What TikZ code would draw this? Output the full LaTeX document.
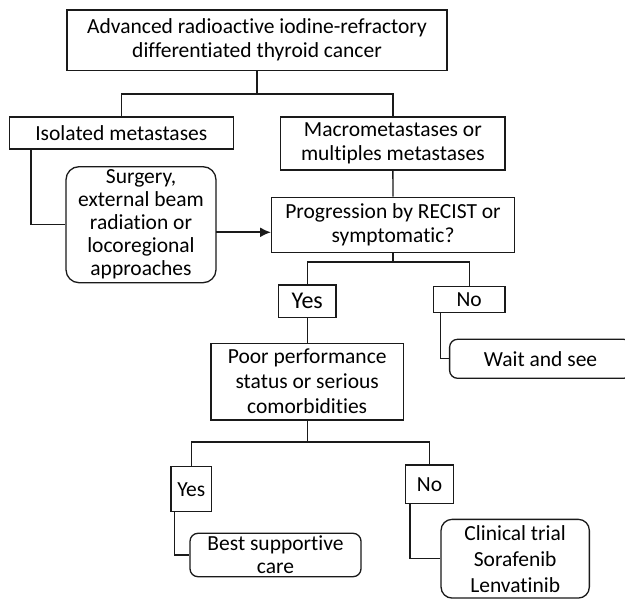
\documentclass[tikz,border=0pt]{standalone}
\usepackage{fontspec}
\setmainfont{Carlito}[Ligatures={NoCommon,NoRequired,NoContextual,NoDiscretionary}]
\usetikzlibrary{arrows.meta}
\definecolor{ink}{HTML}{1A1A1A}
\begin{document}
\begin{tikzpicture}[x=1pt,y=-1pt,
  every node/.style={font=\fontsize{21.5}{24}\selectfont, text=black},
  box/.style={draw=ink, line width=1.3pt, rectangle, inner sep=0pt, align=center},
  rbox/.style={box, rounded corners=#1},
  link/.style={draw=ink, line width=1.3pt},
  arr/.style={draw=ink, line width=2pt, -{Latex[length=11pt,width=10pt]}}]
\useasboundingbox (0,0) rectangle (625,600);
\fill[white] (0,0) rectangle (625,600);

\node[box, minimum width=380pt, minimum height=60.5pt] (top) at (257,40.25)
  {Advanced radioactive iodine-refractory\\differentiated thyroid cancer};
\node[box, minimum width=224pt, minimum height=32pt] (iso) at (121.3,133)
  {Isolated metastases};
\node[box, minimum width=224.3pt, minimum height=53pt] (macro) at (392.85,143.5)
  {Macrometastases or\\multiples metastases};
\node[rbox=13pt, minimum width=150pt, minimum height=116pt,
  font=\fontsize{21.5}{23}\selectfont] (surg) at (141,224.7)
  {Surgery,\\external beam\\radiation or\\locoregional\\approaches};
\node[box, minimum width=242.6pt, minimum height=55pt] (prog) at (393,224.8)
  {Progression by RECIST or\\symptomatic?};
\node[box, minimum width=57.7pt, minimum height=32.3pt,
  font=\fontsize{24}{26}\selectfont] (yes1) at (307.2,301.2) {Yes};
\node[box, minimum width=71.7pt, minimum height=26pt] (no1) at (469.2,299.7) {No};
\node[box, minimum width=192.3pt, minimum height=76.7pt,
  font=\fontsize{21.5}{25}\selectfont] (poor) at (307.2,381.7)
  {Poor performance\\status or serious\\comorbidities};
\node[rbox=8pt, minimum width=182pt, minimum height=39pt] (wait) at (540.6,358.8)
  {Wait and see};
\node[box, minimum width=40.7pt, minimum height=45pt] (yes2) at (191.3,489.2) {Yes};
\node[box, minimum width=47.6pt, minimum height=38.3pt] (no2) at (429.5,484.2) {No};
\node[rbox=8pt, minimum width=171pt, minimum height=43.4pt,
  font=\fontsize{21.5}{23}\selectfont] (best) at (275.5,555)
  {Best supportive\\care};
\node[rbox=11pt, minimum width=148.3pt, minimum height=78.7pt,
  font=\fontsize{21.5}{26}\selectfont] (clin) at (515.2,558.7)
  {Clinical trial\\Sorafenib\\Lenvatinib};

\coordinate (j1) at (257,94);
\coordinate (j2) at (393,262);
\coordinate (j3) at (307.2,442);
\coordinate (arrS) at (216,232.3);

\draw[link] (top.south) -- (j1);
\draw[link] (iso.north) |- (j1) -| (macro.north);
\draw[link] ([xshift=22.4pt]iso.south west) |- (surg.west);
\draw[link] (macro.south) -- (prog.north);
\draw[arr] (arrS) -- (arrS -| prog.west);
\draw[link] (prog.south) -- (j2);
\draw[link] (yes1.north) |- (j2) -| (no1.north);
\draw[link] (yes1.south) -- (poor.north);
\draw[link] ([xshift=7.7pt]no1.south west) |- (wait.west);
\draw[link] (poor.south) -- (j3);
\draw[link] (yes2.north) |- (j3) -| (no2.north);
\draw[link] ([xshift=4pt]yes2.south west) |- (best.west);
\draw[link] ([xshift=5pt]no2.south west) |- (clin.west);
\end{tikzpicture}
\end{document}
